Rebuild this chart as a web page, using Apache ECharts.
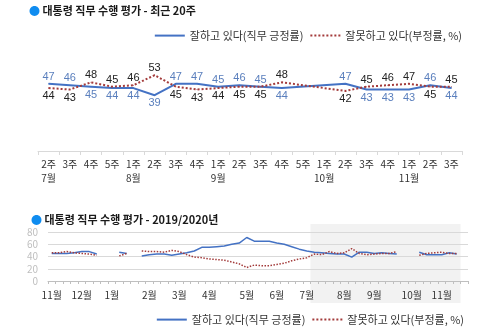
<!DOCTYPE html>
<html><head><meta charset="utf-8">
<script src="https://cdn.jsdelivr.net/npm/echarts@6/dist/echarts.min.js"></script>
<style>html,body{margin:0;padding:0;background:#fff}#c{width:500px;height:333px}</style>
</head><body><div id="c"></div>
<script>
const posName = '잘하고 있다(직무 긍정률)';
const negName = '잘못하고 있다(부정률, %)';

// Recent 20 weeks (top chart)
const recentWeeks  = ['2주','3주','4주','5주','1주','2주','3주','4주','1주','2주','3주','4주','5주','1주','2주','3주','4주','1주','2주','3주'];
const recentMonths = ['7월','','','','8월','','','','9월','','','','','10월','','','','11월','',''];
const recentPos = [47,46,45,44,44,39,47,47,45,46,45,44,null,null,47,43,43,43,46,44];
const recentNeg = [44,43,48,45,46,53,45,43,44,45,45,48,null,null,42,45,46,47,45,45];

// 2019/2020 weekly (bottom chart)
const weekCategories = [
 '2019.11.1주','2019.11.2주','2019.11.3주','2019.11.4주',
 '2019.12.1주','2019.12.2주','2019.12.3주','2019.12.4주',
 '2020.1.1주','2020.1.2주','2020.1.3주','2020.1.4주','2020.1.5주',
 '2020.2.1주','2020.2.2주','2020.2.3주','2020.2.4주',
 '2020.3.1주','2020.3.2주','2020.3.3주','2020.3.4주',
 '2020.4.1주','2020.4.2주','2020.4.3주','2020.4.4주','2020.4.5주',
 '2020.5.1주','2020.5.2주','2020.5.3주','2020.5.4주',
 '2020.6.1주','2020.6.2주','2020.6.3주','2020.6.4주',
 '2020.7.1주','2020.7.2주','2020.7.3주','2020.7.4주','2020.7.5주',
 '2020.8.1주','2020.8.2주','2020.8.3주','2020.8.4주',
 '2020.9.1주','2020.9.2주','2020.9.3주','2020.9.4주','2020.9.5주',
 '2020.10.1주','2020.10.2주','2020.10.3주','2020.10.4주',
 '2020.11.1주','2020.11.2주','2020.11.3주','2020.11.4주'
];
const weeklyPos = [45,45,45,46,48,48,44,null,null,47,45,null,41,43,44,44,42,44,46,49,55,55,56,57,60,62,71,65,65,65,62,60,56,52,49,
  47,46,45,44,44,39,47,47,45,46,45,44,null,null,47,43,43,43,46,44,null];
const weeklyNeg = [46,46,48,46,45,44,42,null,null,41,45,null,49,48,48,47,50,48,43,39,38,36,35,34,31,28,22,26,25,25,27,29,33,36,38,
  44,43,48,45,46,53,45,43,44,45,45,48,null,null,42,45,46,47,45,45,null];
const highlightFrom = '2020.7.2주';
const highlightTo = '2020.11.3주';

const FONT = "'Noto Sans CJK KR', 'Noto Sans', sans-serif";
const NUMFONT = "'Liberation Sans', Arial, sans-serif";
const BLUE = '#4472c4';
const RED = '#a33b3b';

function labeled(vals, other, isPos) {
  return vals.map((v, i) => {
    if (v == null) return null;
    const o = other[i];
    const top = isPos ? v >= o : v > o;
    return {
      value: v,
      label: {position: top ? 'top' : 'bottom', distance: top ? 1 : 2}
    };
  });
}

const legendBase = {itemWidth: 30, itemHeight: 14, itemGap: 6, data: [posName, negName],
  itemStyle: {opacity: 0},
  textStyle: {fontSize: 11, color: '#333', fontFamily: FONT}};

const chart = echarts.init(document.getElementById('c'), null, {renderer: 'canvas'});
const option = {
  animation: false,
  textStyle: {fontFamily: FONT},
  title: [
    {text: '{d|●} 대통령 직무 수행 평가 - 최근 20주', left: 24, top: 0,
     textStyle: {fontSize: 11, fontWeight: 'bold', color: '#1a1a1a', fontFamily: FONT,
       rich: {d: {color: '#0f8cf0', fontSize: 11, fontFamily: FONT}}}},
    {text: '{d|●} 대통령 직무 수행 평가 - 2019/2020년', left: 26, top: 209,
     textStyle: {fontSize: 11, fontWeight: 'bold', color: '#1a1a1a', fontFamily: FONT,
       rich: {d: {color: '#0f8cf0', fontSize: 11, fontFamily: FONT}}}}
  ],
  legend: [
    Object.assign({top: 25, right: 33}, legendBase),
    Object.assign({top: 309, right: 31}, legendBase)
  ],
  grid: [
    {left: 38, right: 38, top: 8, bottom: 182},
    {left: 48, right: 32, top: 232, bottom: 52}
  ],
  xAxis: [
    {type: 'category', gridIndex: 0, data: recentWeeks, boundaryGap: true,
     axisLine: {lineStyle: {color: '#d9d9d9'}},
     axisTick: {show: true, length: 4, lineStyle: {color: '#d9d9d9'}},
     axisLabel: {interval: 0, fontSize: 10, color: '#333', margin: 6, lineHeight: 14,
       formatter: (v, i) => recentWeeks[i] + (recentMonths[i] ? '\n' + recentMonths[i] : '')}},
    {type: 'category', gridIndex: 1, data: weekCategories, boundaryGap: true,
     axisLine: {lineStyle: {color: '#bfbfbf'}},
     axisTick: {show: true, interval: 0, length: 3, lineStyle: {color: '#bfbfbf'}},
     axisLabel: {fontSize: 10, color: '#333', margin: 9,
       interval: (i, v) => /\.1주$/.test(v),
       formatter: v => v.split('.')[1] + '월'}}
  ],
  yAxis: [
    {type: 'value', gridIndex: 0, min: 0, max: 100, show: false},
    {type: 'value', gridIndex: 1, min: 0, max: 80, interval: 20,
     axisLine: {show: false}, axisTick: {show: false},
     axisLabel: {fontSize: 10, color: '#bfbfbf', margin: 10},
     splitLine: {lineStyle: {color: '#d9d9d9'}}}
  ],
  series: [
    {name: posName, type: 'line', xAxisIndex: 0, yAxisIndex: 0, symbol: 'circle', symbolSize: 1,
     showSymbol: true, connectNulls: true, labelLayout: {hideOverlap: false},
     data: labeled(recentPos, recentNeg, true),
     lineStyle: {color: BLUE, width: 2}, itemStyle: {color: BLUE},
     label: {show: true, fontSize: 11, color: '#5a7fbd', fontFamily: NUMFONT}},
    {name: negName, type: 'line', xAxisIndex: 0, yAxisIndex: 0, symbol: 'circle', symbolSize: 1,
     showSymbol: true, connectNulls: true,
     data: labeled(recentNeg, recentPos, false),
     lineStyle: {color: RED, width: 2, type: 'dotted'}, itemStyle: {color: RED},
     label: {show: true, fontSize: 11, color: '#222', fontFamily: NUMFONT}},
    {name: posName, type: 'line', xAxisIndex: 1, yAxisIndex: 1, symbol: 'none', connectNulls: false,
     data: weeklyPos, lineStyle: {color: BLUE, width: 1.5}, itemStyle: {color: BLUE}},
    {name: negName, type: 'line', xAxisIndex: 1, yAxisIndex: 1, symbol: 'none', connectNulls: false,
     data: weeklyNeg, lineStyle: {color: RED, width: 1.5, type: 'dotted'}, itemStyle: {color: RED}}
  ]
};
chart.setOption(option);

// shaded band for the recent 20 weeks, positioned through the axis scale
const i0 = weekCategories.indexOf(highlightFrom);
const i1 = weekCategories.indexOf(highlightTo);
const p0 = chart.convertToPixel({xAxisIndex: 1}, weekCategories[i0]);
const p0b = chart.convertToPixel({xAxisIndex: 1}, weekCategories[i0 + 1]);
const p1 = chart.convertToPixel({xAxisIndex: 1}, weekCategories[i1]);
const half = (p0b - p0) / 2;
const yTop = chart.convertToPixel({yAxisIndex: 1}, 80) - 8;
const yBase = chart.convertToPixel({yAxisIndex: 1}, 0);
chart.setOption({
  graphic: [{type: 'rect', z: -10, silent: true,
    shape: {x: p0 - half, y: yTop, width: (p1 + half) - (p0 - half), height: yBase - yTop + 22},
    style: {fill: '#f2f2f2'}}]
});
</script></body></html>
